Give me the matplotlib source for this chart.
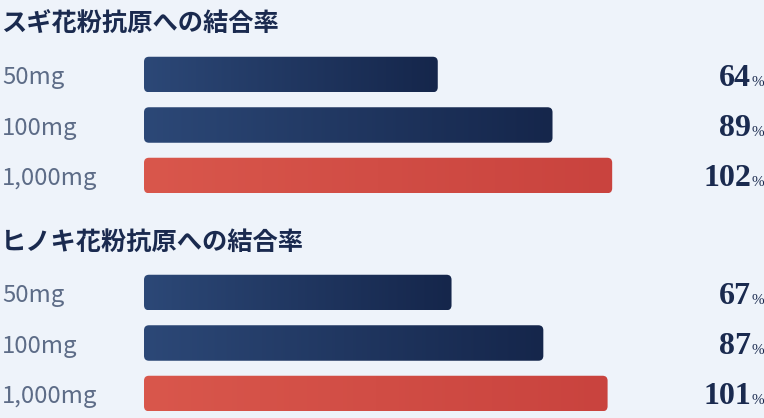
import matplotlib.pyplot as plt
import numpy as np
from matplotlib.colors import LinearSegmentedColormap
from matplotlib.patches import FancyBboxPatch
from matplotlib.transforms import blended_transform_factory

# data
titles = ["スギ花粉抗原への結合率", "ヒノキ花粉抗原への結合率"]
doses = ["50mg", "100mg", "1,000mg"]
sugi_vals = [64, 89, 102]
hinoki_vals = [67, 87, 101]
highlight = [False, False, True]

W, H = 764, 418
BG = "#eef3fa"
NAVY = "#1a2a4f"
GREY = "#5d6c87"
navy_cmap = LinearSegmentedColormap.from_list("navy", ["#2c4877", "#15264b"])
red_cmap = LinearSegmentedColormap.from_list("red", ["#d9574c", "#c9433e"])

plt.rcParams['font.family'] = ['Noto Sans CJK JP', 'DejaVu Sans']

fig = plt.figure(figsize=(W / 100, H / 100), dpi=100, facecolor=BG)
# x axis: bars start at pixel 144, ~4.59 px per percent
x0 = 144
ppu = 4.59
ax = fig.add_axes([x0 / W, 0, (W - x0) / W, 1])
ax.set_facecolor(BG)
ax.set_xlim(0, (W - x0) / ppu)
ax.set_ylim(H, 0)
ax.axis("off")

tr = blended_transform_factory(fig.transFigure, ax.transData)

group_tops = [0, 218]
bar_h = 35.5
grad = np.linspace(0, 1, 256).reshape(1, -1)

for g, vals in enumerate([sugi_vals, hinoki_vals]):
    top = group_tops[g]
    ax.text(1 / W, top + 24.5, titles[g], transform=tr, fontsize=18.2,
            fontweight="bold", color=NAVY, va="center", ha="left")
    for i, (dose, v) in enumerate(zip(doses, vals)):
        yc = top + 74.5 + i * 50.5
        y0 = yc - bar_h / 2
        patch = FancyBboxPatch((0, y0), v, bar_h,
                               boxstyle="round,pad=0,rounding_size=%f" % (5 / ppu),
                               mutation_aspect=ppu, linewidth=0,
                               facecolor="none")
        ax.add_patch(patch)
        cmap = red_cmap if highlight[i] else navy_cmap
        im = ax.imshow(grad, cmap=cmap, aspect="auto",
                       extent=(0, v, y0 + bar_h, y0), interpolation="bilinear")
        im.set_clip_path(patch)
        ax.text(2 / W, yc + 9.5, dose, transform=tr, fontsize=17.2,
                color=GREY, va="baseline", ha="left")
        ax.text(751 / W, yc + 11, str(v), transform=tr, fontsize=23,
                fontweight="bold", family="Liberation Serif", color=NAVY,
                va="baseline", ha="right")
        ax.text(752 / W, yc + 11, "%", transform=tr, fontsize=11,
                family="Liberation Serif", color=NAVY,
                va="baseline", ha="left")

ax.set_xlim(0, (W - x0) / ppu)
ax.set_ylim(H, 0)
fig.savefig("out.png", dpi=100, facecolor=BG)
